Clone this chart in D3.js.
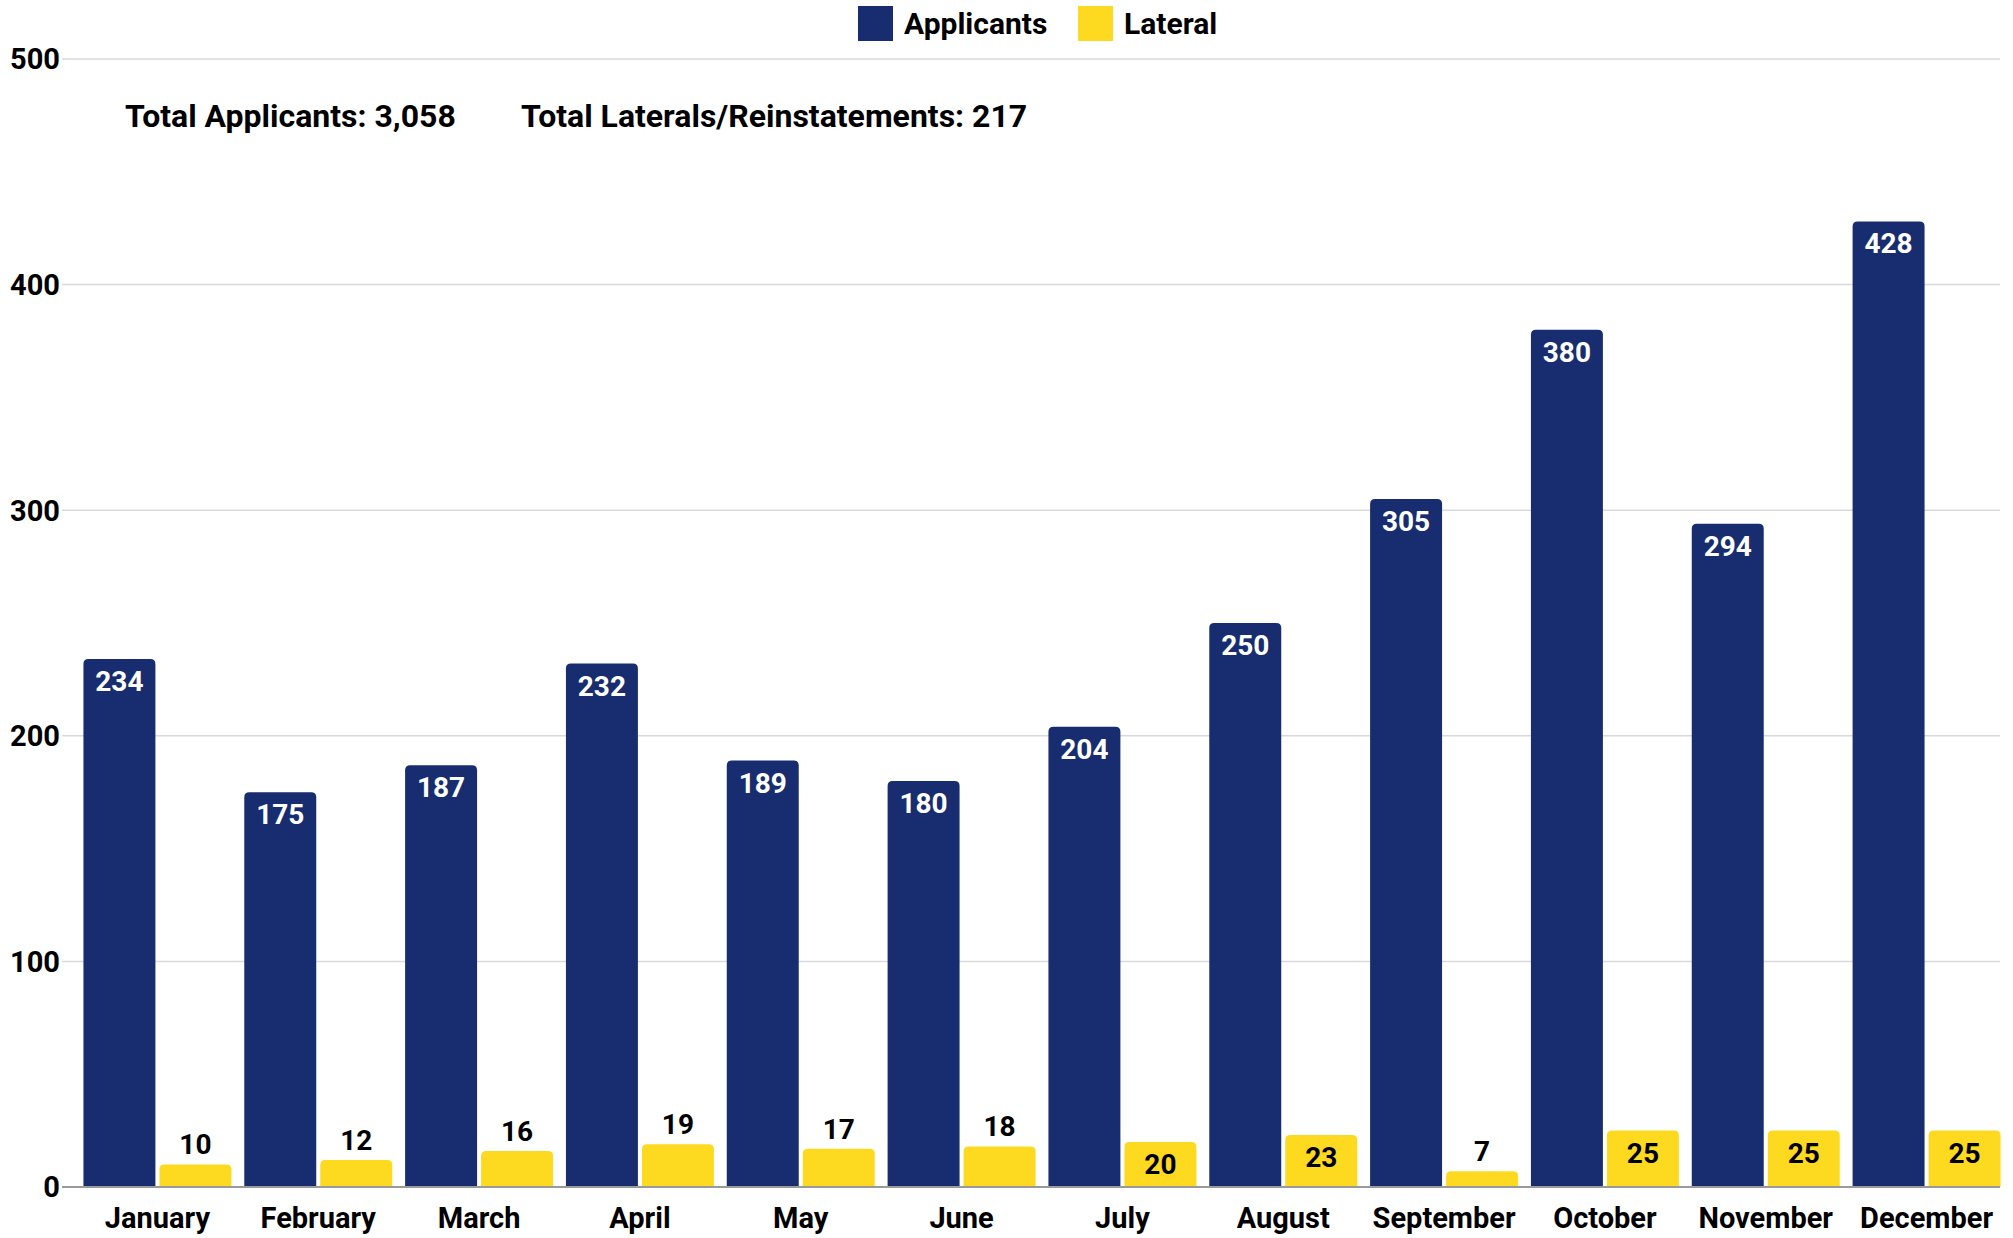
<!DOCTYPE html>
<html>
<head>
<meta charset="utf-8">
<script src="https://cdn.jsdelivr.net/npm/d3@7"></script>
<style>
  html, body { margin: 0; padding: 0; background: #ffffff; }
  svg { display: block; }
  text { font-family: "Roboto", "Noto Sans", sans-serif; font-weight: 700; }
</style>
</head>
<body>
<svg id="chart" width="2013" height="1238"></svg>
<script>
// Monthly counts
const months = ["January", "February", "March", "April", "May", "June",
                "July", "August", "September", "October", "November", "December"];
const applicants = [234, 175, 187, 232, 189, 180, 204, 250, 305, 380, 294, 428];
const lateral = [10, 12, 16, 19, 17, 18, 20, 23, 7, 25, 25, 25];
const seriesNames = ["Applicants", "Lateral"];
const seriesColors = ["#182d6f", "#fdda1f"];
const yTicks = [0, 100, 200, 300, 400, 500];
const totalsText = ["Total Applicants: 3,058", "Total Laterals/Reinstatements: 217"];

const svg = d3.select("#chart");

const y = d3.scaleLinear().domain([0, 500]).range([1187, 59]);
const x0 = d3.scaleBand().domain(months).range([77, 2007]).paddingInner(0.08).paddingOuter(0.04);
const x1 = d3.scaleBand().domain(seriesNames).range([0, x0.bandwidth()]).paddingInner(0.053);
const color = d3.scaleOrdinal().domain(seriesNames).range(seriesColors);

const gridLeft = 62, gridRight = 2000;

// Gridlines and y-axis labels
const yAxis = svg.append("g").attr("class", "y-axis");
yAxis.selectAll("line.grid")
  .data(yTicks.filter(d => d > 0))
  .join("line")
  .attr("class", "grid")
  .attr("x1", gridLeft).attr("x2", gridRight)
  .attr("y1", d => y(d)).attr("y2", d => y(d))
  .attr("stroke", "#d9d9d9").attr("stroke-width", 1.5);

yAxis.selectAll("text")
  .data(yTicks)
  .join("text")
  .attr("x", 60)
  .attr("y", d => y(d))
  .attr("dy", "0.36em")
  .attr("text-anchor", "end")
  .attr("font-size", 29)
  .attr("fill", "#000")
  .text(d => d);

// Bar with rounded top corners
function barPath(x, yTop, w, yBase, r) {
  const h = yBase - yTop;
  const rr = Math.min(r, h, w / 2);
  return `M${x},${yBase}V${yTop + rr}Q${x},${yTop} ${x + rr},${yTop}` +
         `H${x + w - rr}Q${x + w},${yTop} ${x + w},${yTop + rr}V${yBase}Z`;
}

const rows = months.map((m, i) => ({
  month: m,
  values: [
    { key: "Applicants", value: applicants[i] },
    { key: "Lateral", value: lateral[i] }
  ]
}));

const groups = svg.append("g").attr("class", "bars")
  .selectAll("g")
  .data(rows)
  .join("g")
  .attr("transform", d => `translate(${x0(d.month)},0)`);

groups.selectAll("path")
  .data(d => d.values)
  .join("path")
  .attr("d", d => barPath(x1(d.key), y(d.value), x1.bandwidth(), y(0), 5))
  .attr("fill", d => color(d.key));

// Value labels: inside the top of tall bars, above short ones
const fitsInside = d => (y(0) - y(d.value)) > 44;
groups.selectAll("text")
  .data(d => d.values)
  .join("text")
  .attr("x", d => x1(d.key) + x1.bandwidth() / 2)
  .attr("y", d => fitsInside(d) ? y(d.value) + 32 : y(d.value) - 10)
  .attr("text-anchor", "middle")
  .attr("font-size", 28)
  .attr("fill", d => fitsInside(d) && d.key === "Applicants" ? "#ffffff" : "#000000")
  .text(d => d.value);

// Baseline
svg.append("line")
  .attr("x1", gridLeft).attr("x2", gridRight)
  .attr("y1", y(0)).attr("y2", y(0))
  .attr("stroke", "#9a9a9a").attr("stroke-width", 2);

// Month labels
svg.append("g").attr("class", "x-axis")
  .selectAll("text")
  .data(months)
  .join("text")
  .attr("x", d => x0(d) + x0.bandwidth() / 2)
  .attr("y", 1228)
  .attr("text-anchor", "middle")
  .attr("font-size", 29)
  .attr("fill", "#000")
  .text(d => d);

// Legend
const legendItems = [
  { name: seriesNames[0], x: 858 },
  { name: seriesNames[1], x: 1078 }
];
const legend = svg.append("g").attr("class", "legend");
legend.selectAll("rect")
  .data(legendItems)
  .join("rect")
  .attr("x", d => d.x).attr("y", 6)
  .attr("width", 35).attr("height", 35)
  .attr("fill", d => color(d.name));
legend.selectAll("text")
  .data(legendItems)
  .join("text")
  .attr("x", d => d.x + 46)
  .attr("y", 34)
  .attr("font-size", 30)
  .attr("fill", "#000")
  .text(d => d.name);

// Totals
svg.append("g").attr("class", "totals")
  .selectAll("text")
  .data([{ t: totalsText[0], x: 125 }, { t: totalsText[1], x: 521 }])
  .join("text")
  .attr("x", d => d.x)
  .attr("y", 127)
  .attr("font-size", 32)
  .attr("fill", "#000")
  .text(d => d.t);
</script>
</body>
</html>
